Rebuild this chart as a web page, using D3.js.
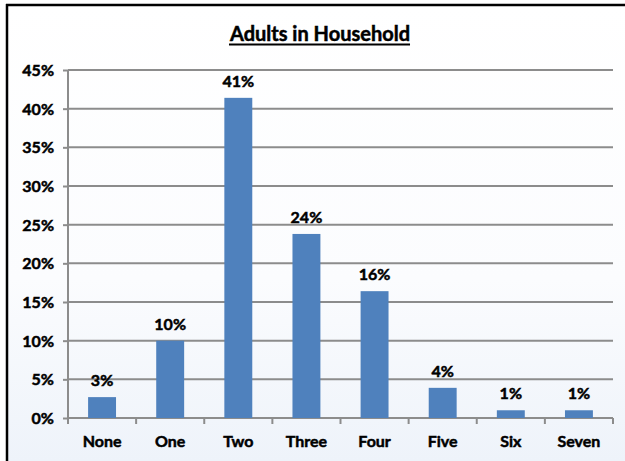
<!DOCTYPE html>
<html>
<head>
<meta charset="utf-8">
<script src="https://cdn.jsdelivr.net/npm/d3@7/dist/d3.min.js"></script>
<style>
  body { margin: 0; background: #fff; }
  svg { display: block; }
  text { font-family: Lato, "Open Sans", sans-serif; font-weight: bold; fill: #000; stroke: #000; stroke-width: 0.5px; }
</style>
</head>
<body>
<svg></svg>
<script>
var categories = ["None", "One", "Two", "Three", "Four", "Five", "Six", "Seven"];
var shares = [2.7, 10.0, 41.4, 23.8, 16.4, 3.9, 1.0, 1.0];
var shareLabels = ["3%", "10%", "41%", "24%", "16%", "4%", "1%", "1%"];
var yTicks = [0, 5, 10, 15, 20, 25, 30, 35, 40, 45];

var W = 625, H = 461;
var margin = { top: 70, right: 12, bottom: 43, left: 68 },
  width = W - margin.left - margin.right,
  height = H - margin.top - margin.bottom;

var svg = d3.select("svg")
  .attr("width", W)
  .attr("height", H);

// faint blue wash like the source
var grad = svg.append("defs").append("linearGradient")
  .attr("id", "bg").attr("x1", 0).attr("y1", 0).attr("x2", 0).attr("y2", 1);
grad.append("stop").attr("offset", "0").attr("stop-color", "#ffffff");
grad.append("stop").attr("offset", "0.6").attr("stop-color", "#fbfcfe");
grad.append("stop").attr("offset", "1").attr("stop-color", "#eef3fa");
svg.append("rect").attr("x", 7).attr("y", 5).attr("width", W - 7).attr("height", H - 5)
  .attr("fill", "url(#bg)");

// frame: top and left edges only are visible
svg.append("line").attr("x1", 6).attr("x2", W).attr("y1", 5).attr("y2", 5)
  .attr("stroke", "#000").attr("stroke-width", 2.5);
svg.append("line").attr("x1", 7).attr("x2", 7).attr("y1", 4).attr("y2", H)
  .attr("stroke", "#000").attr("stroke-width", 2.5);

// title
var title = svg.append("text")
  .attr("x", 320)
  .attr("y", 41)
  .attr("text-anchor", "middle")
  .attr("font-size", "20px")
  .text("Adults in Household");
var tb = title.node().getBBox();
svg.append("line")
  .attr("x1", tb.x).attr("x2", tb.x + tb.width)
  .attr("y1", 44.5).attr("y2", 44.5)
  .attr("stroke", "#000").attr("stroke-width", 1.8);

var g = svg.append("g")
  .attr("transform", "translate(" + margin.left + "," + margin.top + ")");

var x = d3.scaleBand()
  .domain(categories)
  .range([0, width])
  .paddingInner(0.59)
  .paddingOuter(0.295);

var y = d3.scaleLinear()
  .domain([0, 45])
  .range([height, 0]);

// gridlines
g.append("g")
  .selectAll("line")
  .data(yTicks.slice(1))
  .enter().append("line")
  .attr("x1", 0).attr("x2", width)
  .attr("y1", function(d) { return y(d); })
  .attr("y2", function(d) { return y(d); })
  .attr("stroke", "#8c8c8c")
  .attr("stroke-width", 2);

// y axis
var yAxis = g.append("g")
  .call(d3.axisLeft(y).tickValues(yTicks).tickSize(5).tickPadding(9)
    .tickFormat(function(d) { return d + "%"; }));
yAxis.select(".domain").attr("stroke", "#8c8c8c").attr("stroke-width", 2)
  .attr("d", "M0," + height + "V0");
yAxis.selectAll(".tick line").attr("stroke", "#8c8c8c").attr("stroke-width", 2);
yAxis.selectAll("text").attr("font-size", "16px").attr("dy", "0.35em");

// x axis with ticks at category boundaries
var xAxis = g.append("g")
  .attr("transform", "translate(0," + height + ")");
xAxis.append("line")
  .attr("x1", 0).attr("x2", width).attr("y1", 0).attr("y2", 0)
  .attr("stroke", "#8c8c8c").attr("stroke-width", 2);
xAxis.selectAll(".bound")
  .data(d3.range(categories.length + 1))
  .enter().append("line")
  .attr("class", "bound")
  .attr("x1", function(i) { return i * width / categories.length; })
  .attr("x2", function(i) { return i * width / categories.length; })
  .attr("y1", 0).attr("y2", 6)
  .attr("stroke", "#8c8c8c").attr("stroke-width", 2);
xAxis.selectAll(".cat")
  .data(categories)
  .enter().append("text")
  .attr("class", "cat")
  .attr("x", function(d) { return x(d) + x.bandwidth() / 2; })
  .attr("y", 29)
  .attr("text-anchor", "middle")
  .attr("font-size", "16px")
  .text(function(d) { return d; });

// bars
g.selectAll(".bar")
  .data(shares)
  .enter().append("rect")
  .attr("class", "bar")
  .attr("x", function(d, i) { return x(categories[i]); })
  .attr("y", function(d) { return y(d); })
  .attr("width", x.bandwidth())
  .attr("height", function(d) { return height - y(d); })
  .attr("fill", "#4f81bd");

// value labels
g.selectAll(".val")
  .data(shares)
  .enter().append("text")
  .attr("class", "val")
  .attr("x", function(d, i) { return x(categories[i]) + x.bandwidth() / 2; })
  .attr("y", function(d) { return y(d) - 11; })
  .attr("text-anchor", "middle")
  .attr("font-size", "16px")
  .text(function(d, i) { return shareLabels[i]; });
</script>
</body>
</html>
